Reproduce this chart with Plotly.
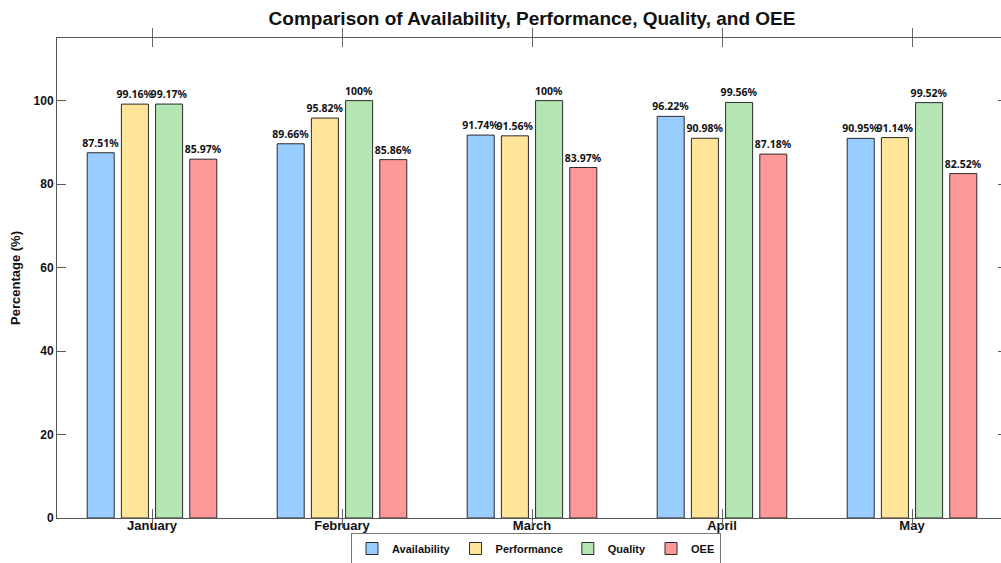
import plotly.graph_objects as go

months = ["January", "February", "March", "April", "May"]
availability = [87.51, 89.66, 91.74, 96.22, 90.95]
performance = [99.16, 95.82, 91.56, 90.98, 91.14]
quality = [99.17, 100, 100, 99.56, 99.52]
oee = [85.97, 85.86, 83.97, 87.18, 82.52]

series = [
    ("Availability", availability, "#99ccff"),
    ("Performance", performance, "#ffe599"),
    ("Quality", quality, "#b3e6b3"),
    ("OEE", oee, "#ff9999"),
]

W, H = 1001, 563
L, R, T, B = 57, 0, 38, 45
plot_w = W - L - R
group_px = 190  # pixel width of one month slot

fig = go.Figure()
for name, vals, color in series:
    fig.add_trace(go.Bar(
        x=months, y=vals, name=name,
        marker=dict(color=color, line=dict(color="#2a2a2a", width=1)),
        text=[f"{v:g}%" for v in vals],
        textposition="outside",
        constraintext="none",
        cliponaxis=False,
        textfont=dict(family="Noto Sans", size=10.5, color="#111111", weight="bold"),
    ))

# helper trace so the right-hand tick axis is rendered
fig.add_trace(go.Scatter(x=[months[0]], y=[0], yaxis="y2", mode="markers",
                         marker=dict(opacity=0), showlegend=False, hoverinfo="skip"))

axis_font = dict(family="Liberation Sans", size=13, color="#111111", weight="bold")

fig.update_layout(
    width=W, height=H,
    margin=dict(l=L, r=R, t=T, b=B, pad=0, autoexpand=False),
    plot_bgcolor="white", paper_bgcolor="white",
    barmode="group", bargap=0.28, bargroupgap=0.21,
    title=dict(text="Comparison of Availability, Performance, Quality, and OEE",
               x=(L + 5 * group_px / 2) / W, xanchor="center", y=1 - 18 / H, yanchor="middle",
               font=dict(family="Liberation Sans", size=19, color="#111111", weight="bold")),
    xaxis=dict(
        range=[-0.5, -0.5 + plot_w / group_px],
        showline=True, linecolor="#555555", linewidth=1, mirror="allticks",
        ticks="inside", ticklen=9, tickcolor="#666666", ticklabelstandoff=-5,
        tickfont=axis_font, showgrid=False, zeroline=False,
    ),
    yaxis=dict(
        range=[0, 115], tickvals=[0, 20, 40, 60, 80, 100],
        showline=True, linecolor="#555555", linewidth=1,
        ticks="inside", ticklen=9, tickcolor="#555555",
        tickfont=dict(family="Liberation Sans", size=12, color="#111111", weight="bold"),
        showgrid=False, zeroline=False,
        title=dict(text="Percentage (%)", standoff=10,
                   font=dict(family="Liberation Sans", size=13, color="#111111", weight="bold")),
    ),
    yaxis2=dict(
        overlaying="y", side="right", range=[0, 115], tickvals=[0, 20, 40, 60, 80, 100],
        showticklabels=False, ticks="inside", ticklen=3, tickcolor="#555555",
        showline=False, showgrid=False, zeroline=False,
    ),
    legend=dict(
        orientation="h", x=(536 - L) / plot_w, xanchor="center",
        yref="container", y=1 - 533 / H, yanchor="top",
        bordercolor="#777777", borderwidth=1, bgcolor="white",
        font=dict(family="Liberation Sans", size=11, color="#111111", weight="bold"),
        itemwidth=30, tracegroupgap=0,
    ),
)

fig.write_html("out.html")
